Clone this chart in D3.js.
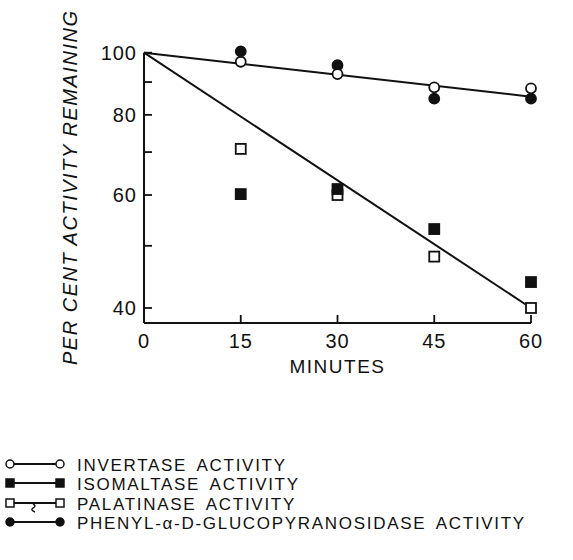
<!DOCTYPE html>
<html>
<head>
<meta charset="utf-8">
<script src="https://cdn.jsdelivr.net/npm/d3@7"></script>
<style>
  body { margin: 0; background: #fff; }
  text { font-family: "Liberation Sans", Arial, sans-serif; fill: #111; }
</style>
</head>
<body>
<div id="chart"></div>
<script>
// Data
const minutes = [15, 30, 45, 60];
const invertase = [96.8, 92.6, 88.3, 88.0];
const isomaltase = [60.2, 61.3, 53.1, 43.9];
const palatinase = [70.8, 60.0, 48.1, 40.0];
const phenyl = [100.5, 95.6, 84.8, 84.8];
const xTicks = [0, 15, 30, 45, 60];
const yTicks = [40, 50, 60, 70, 80, 90, 100];
const yLabels = [40, 60, 80, 100];
// fitted lines: [minute, percent]
const upperLine = [[0, 100], [60, 85.4]];
const lowerLine = [[0, 100], [60, 40]];
const legendNames = ["INVERTASE ACTIVITY", "ISOMALTASE ACTIVITY", "PALATINASE ACTIVITY", "PHENYL-\u03b1-D-GLUCOPYRANOSIDASE ACTIVITY"];

const width = 573, height = 560;
const svg = d3.select("#chart").append("svg")
    .attr("width", width).attr("height", height);

const x = d3.scaleLinear().domain([0, 60]).range([144, 531]);
const y = d3.scaleLog().domain([37.9, 100]).range([323, 52.7]);

const ink = "#111";

// axes lines
svg.append("line").attr("x1", x(0)).attr("x2", x(60)).attr("y1", y.range()[0]).attr("y2", y.range()[0])
    .attr("stroke", ink).attr("stroke-width", 2);
svg.append("line").attr("x1", x(0)).attr("x2", x(0)).attr("y1", y.range()[0]).attr("y2", y(100))
    .attr("stroke", ink).attr("stroke-width", 2);

// inward ticks
svg.selectAll(".xt").data(xTicks.slice(1)).join("line")
    .attr("x1", d => x(d)).attr("x2", d => x(d))
    .attr("y1", y.range()[0]).attr("y2", y.range()[0] - 8)
    .attr("stroke", ink).attr("stroke-width", 1.8);
svg.selectAll(".yt").data(yTicks).join("line")
    .attr("x1", x(0)).attr("x2", x(0) + 8)
    .attr("y1", d => y(d)).attr("y2", d => y(d))
    .attr("stroke", ink).attr("stroke-width", 1.8);

// tick labels
svg.selectAll(".xl").data(xTicks).join("text")
    .attr("x", d => x(d)).attr("y", 348)
    .attr("text-anchor", "middle").attr("font-size", 20).attr("letter-spacing", 1)
    .text(d => d);
svg.selectAll(".yl").data(yLabels).join("text")
    .attr("x", 137).attr("y", d => y(d) + 7)
    .attr("text-anchor", "end").attr("font-size", 20).attr("letter-spacing", 1)
    .text(d => d);

// axis titles
svg.append("text").attr("x", x(30)).attr("y", 373)
    .attr("text-anchor", "middle").attr("font-size", 19).attr("letter-spacing", 1.5)
    .text("MINUTES");
svg.append("text")
    .attr("transform", `translate(77, ${188}) rotate(-90)`)
    .attr("text-anchor", "middle").attr("font-size", 20).attr("font-style", "italic")
    .attr("textLength", 354).attr("lengthAdjust", "spacing")
    .text("PER CENT ACTIVITY REMAINING");

// fitted lines
const line = d3.line().x(d => x(d[0])).y(d => y(d[1]));
[upperLine, lowerLine].forEach(l => {
    svg.append("path").attr("d", line(l)).attr("fill", "none")
        .attr("stroke", ink).attr("stroke-width", 2);
});

// markers
function circles(vals, filled) {
    svg.append("g").selectAll("circle").data(vals).join("circle")
        .attr("cx", (d, i) => x(minutes[i])).attr("cy", d => y(d))
        .attr("r", 5)
        .attr("fill", filled ? ink : "#fff")
        .attr("stroke", ink).attr("stroke-width", 1.8);
}
function squares(vals, filled) {
    svg.append("g").selectAll("rect").data(vals).join("rect")
        .attr("x", (d, i) => x(minutes[i]) - 5).attr("y", d => y(d) - 5)
        .attr("width", 10).attr("height", 10)
        .attr("fill", filled ? ink : "#fff")
        .attr("stroke", ink).attr("stroke-width", 1.8);
}
circles(phenyl, true);
circles(invertase, false);
squares(palatinase, false);
squares(isomaltase, true);

// legend
const legendY = [464, 483, 503, 522];
const lg = svg.append("g");
legendNames.forEach((name, i) => {
    const cy = legendY[i];
    lg.append("line").attr("x1", 10).attr("x2", 60).attr("y1", cy).attr("y2", cy)
        .attr("stroke", ink).attr("stroke-width", 1.8);
    [10, 60].forEach(cx => {
        if (i === 0 || i === 3) {
            lg.append("circle").attr("cx", cx).attr("cy", cy).attr("r", 4)
                .attr("fill", i === 3 ? ink : "#fff").attr("stroke", ink).attr("stroke-width", 1.5);
        } else {
            lg.append("rect").attr("x", cx - 4).attr("y", cy - 4).attr("width", 8).attr("height", 8)
                .attr("fill", i === 1 ? ink : "#fff").attr("stroke", ink).attr("stroke-width", 1.5);
        }
    });
    if (i === 2) {
        lg.append("path").attr("d", `M33,${cy + 1} q4,2 0,4 q-3,2 2,4`)
            .attr("fill", "none").attr("stroke", ink).attr("stroke-width", 1.4);
    }
    lg.append("text").attr("x", 77).attr("y", cy + 6.5)
        .attr("font-size", 17).attr("letter-spacing", 1.7).attr("word-spacing", 4)
        .text(name);
});
</script>
</body>
</html>
